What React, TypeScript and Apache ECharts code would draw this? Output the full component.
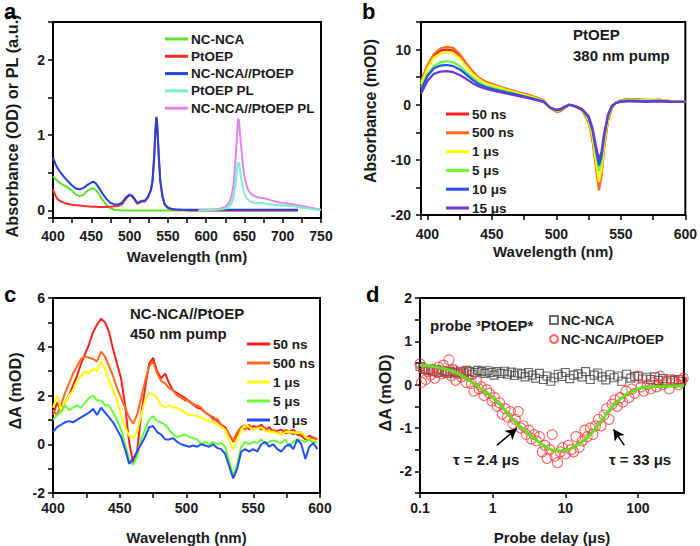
import React, { useEffect, useRef } from "react";
import * as echarts from "echarts";

// ---------- Panel a: steady-state absorption / PL ----------
const aX = [400,403,406,410,415,420,425,430,435,440,445,450,453,456,460,465,470,475,480,485,490,495,500,503,506,510,513,516,520,524,528,530,532,534,535,536,538,540,543,546,550,555,560,570,580,600,620,640,660,680,700,720];
const aNCNCA = [0.45,0.42,0.39,0.36,0.33,0.30,0.26,0.21,0.19,0.21,0.26,0.29,0.29,0.27,0.22,0.14,0.07,0.03,0.01,0.005,0,0,0,0,0,0,0,0,0,0,0,0,0,0,0,0,0,0,0,0,0,0,0,0,0,0,0,0,0,0,0,0];
const aPtOEP = [0.28,0.20,0.15,0.12,0.10,0.085,0.075,0.07,0.065,0.06,0.055,0.05,0.05,0.05,0.045,0.045,0.045,0.05,0.055,0.06,0.08,0.15,0.20,0.19,0.15,0.09,0.10,0.12,0.12,0.17,0.27,0.39,0.69,1.10,1.24,1.15,0.75,0.40,0.18,0.08,0.03,0.015,0.01,0.005,0,0,0,0,0,0,0,0];
const aBlend = [0.70,0.62,0.56,0.50,0.44,0.38,0.33,0.29,0.28,0.30,0.34,0.37,0.38,0.36,0.30,0.22,0.15,0.10,0.08,0.08,0.10,0.17,0.21,0.20,0.16,0.10,0.11,0.13,0.13,0.18,0.28,0.40,0.70,1.10,1.24,1.15,0.75,0.40,0.18,0.08,0.04,0.02,0.015,0.01,0.01,0.01,0.01,0.01,0.01,0.01,0.01,0.01];
const plX = [590,600,610,620,625,630,633,636,638,640,641,642,643,644,646,648,650,653,656,660,665,670,675,680,690,700,710,720,730,740,750];
const plPtOEP = [0,0,0.005,0.015,0.025,0.05,0.09,0.18,0.32,0.5,0.6,0.64,0.62,0.55,0.42,0.3,0.22,0.16,0.13,0.11,0.1,0.1,0.095,0.085,0.075,0.065,0.06,0.045,0.03,0.015,0.005];
const plBlend = [0,0.005,0.01,0.03,0.05,0.1,0.18,0.36,0.62,0.95,1.12,1.22,1.18,1.05,0.82,0.6,0.45,0.32,0.25,0.21,0.18,0.17,0.165,0.15,0.12,0.1,0.085,0.07,0.05,0.03,0.01];
const aNames = ["NC-NCA", "PtOEP", "NC-NCA//PtOEP", "PtOEP PL", "NC-NCA//PtOEP PL"];

// ---------- Panel b: PtOEP transient absorption ----------
const bX = [395,400,405,410,415,420,425,430,435,440,445,450,460,470,480,490,495,500,503,506,510,515,520,525,528,531,533,535,537,540,543,546,550,555,560,570,580,590,600];
const b50ns = [4.1,7.0,8.9,9.8,10.0,9.8,8.8,7.3,5.9,4.8,4.1,3.7,2.9,2.2,1.6,0.8,-0.5,-1.2,-1.1,-0.6,0.0,-0.3,-1.0,-3.0,-6.2,-11.5,-15,-12.5,-7.6,-2.8,-0.5,0.4,0.8,1.0,1.0,0.8,0.9,0.6,0.5];
const b500ns = [4.3,7.2,9.2,10.2,10.5,10.3,9.2,7.6,6.1,4.9,4.2,3.8,3.0,2.3,1.7,0.8,-0.6,-1.3,-1.2,-0.7,0.0,-0.4,-1.1,-3.2,-6.5,-12,-15.5,-13,-8,-3,-0.6,0.4,0.8,1.0,1.0,0.9,0.9,0.6,0.5];
const b1us = [3.7,6.6,8.5,9.3,9.6,9.4,8.4,7.0,5.6,4.6,3.9,3.5,2.8,2.1,1.5,0.7,-0.5,-1.1,-1.0,-0.6,0.0,-0.3,-1.0,-2.8,-5.8,-10.8,-14,-11.8,-7.2,-2.6,-0.4,0.4,0.7,0.9,0.9,0.8,0.8,0.6,0.5];
const b5us = [3.1,5.6,7.0,7.7,7.9,7.7,7.0,5.9,4.9,4.0,3.4,3.1,2.5,1.9,1.3,0.6,-0.5,-1.0,-0.9,-0.5,0.0,-0.3,-0.9,-2.5,-5.0,-9.3,-12,-10.1,-6.2,-2.2,-0.3,0.4,0.7,0.8,0.8,0.7,0.8,0.6,0.5];
const b10us = [2.6,5.2,6.6,7.1,7.2,7.0,6.4,5.5,4.5,3.7,3.2,2.9,2.3,1.8,1.2,0.6,-0.5,-1.0,-0.9,-0.5,0.0,-0.3,-0.9,-2.3,-4.6,-8.6,-11,-9.3,-5.8,-2.0,-0.3,0.3,0.6,0.7,0.7,0.6,0.7,0.5,0.5];
const b15us = [2.0,4.3,5.6,6.0,6.1,5.9,5.4,4.7,3.9,3.3,2.9,2.6,2.1,1.6,1.1,0.5,-0.5,-0.9,-0.8,-0.4,0.0,-0.3,-0.8,-2.1,-4.2,-7.8,-10,-8.5,-5.3,-1.8,-0.2,0.3,0.5,0.6,0.6,0.5,0.6,0.5,0.5];
const bNames = ["50 ns", "500 ns", "1 μs", "5 μs", "10 μs", "15 μs"];

// ---------- Panel c: NC-NCA//PtOEP transient absorption ----------
const cX = [400,403,406,409,412,415,418,421,424,427,430,433,436,439,442,445,448,451,454,457,460,463,466,469,472,475,478,481,484,487,490,493,496,499,502,505,508,511,514,517,520,523,526,529,532,535,538,541,544,547,550,553,556,559,562,565,568,571,574,577,580,583,586,589,592,595,598];
const c50ns = [1.2,1.7,1.4,1.7,2.0,2.4,2.8,3.3,3.7,4.1,4.6,4.9,5.15,5.0,4.6,3.9,3.3,2.7,1.6,0.1,-0.75,-0.3,1.2,2.3,3.3,3.55,3.0,2.7,2.9,2.5,2.2,2.1,2.0,1.9,1.75,1.65,1.5,1.45,1.3,1.2,1.1,0.95,0.8,0.7,0.4,0.1,0.4,0.7,0.8,0.6,0.75,0.7,0.8,0.6,0.7,0.5,0.55,0.6,0.45,0.5,0.6,0.4,0.35,0.2,0.35,0.25,0.2];
const c500ns = [1.4,1.2,1.6,2.1,2.5,2.9,3.2,3.5,3.6,3.55,3.5,3.4,3.8,3.6,3.2,2.8,2.3,1.9,1.5,1.1,0.85,1.2,1.9,2.6,3.2,3.4,2.9,2.6,2.5,2.3,2.2,2.0,1.9,1.8,1.8,1.6,1.6,1.5,1.3,1.2,1.0,1.05,0.8,0.6,0.4,0.15,0.5,0.7,0.6,0.8,0.6,0.7,0.6,0.7,0.5,0.6,0.5,0.4,0.6,0.5,0.4,0.5,0.4,0.3,0.2,0.3,0.2];
const c1us = [1.5,2.0,1.4,1.7,2.0,2.2,2.6,2.8,3.0,2.9,3.1,3.0,3.4,3.1,2.6,2.2,1.8,1.2,0.7,0.35,0.25,0.5,1.2,1.8,2.1,2.05,1.9,1.6,1.5,1.6,1.5,1.5,1.4,1.3,1.2,1.2,1.15,1.1,1.0,0.95,0.9,0.8,0.7,0.6,0.1,-0.2,0.2,0.6,0.8,0.7,0.6,0.65,0.7,0.55,0.5,0.5,0.45,0.4,0.5,0.5,0.5,0.45,0.5,0.3,0.2,0.15,0.1];
const c5us = [1.0,1.2,1.3,1.6,1.4,1.5,1.6,1.5,1.7,1.9,2.0,1.8,1.8,1.6,1.6,1.3,1.0,0.6,0.0,-0.6,-0.85,-0.5,0.2,0.6,1.0,1.15,0.95,0.9,0.8,0.6,0.4,0.3,0.35,0.4,0.3,0.25,0.2,0.0,0.1,0.0,0.1,0.0,0.05,-0.1,-0.7,-1.3,-0.8,-0.1,0.1,0.0,0.1,0.05,0.2,0.0,0.1,0.15,0.1,0.05,0.2,-0.1,0.1,0.2,0.15,0.1,0.2,0.05,0.1];
const c10us = [0.5,0.7,0.8,0.9,0.95,0.9,1.0,1.1,1.2,1.3,1.45,1.2,1.5,1.3,1.1,0.9,0.6,0.3,-0.2,-0.8,-0.6,-0.3,0.0,0.3,0.7,0.75,0.5,0.4,0.2,0.2,0.25,0.1,0.0,-0.05,-0.1,-0.05,-0.1,0.0,-0.05,-0.1,0.0,-0.15,-0.2,-0.4,-0.9,-1.4,-1.0,-0.3,-0.2,-0.3,-0.2,-0.3,0.0,0.1,-0.1,0.0,-0.2,-0.3,-0.1,0.0,-0.2,0.2,0.0,-0.6,-0.1,0.05,-0.2];
const cNames = ["50 ns", "500 ns", "1 μs", "5 μs", "10 μs"];

// ---------- Panel d: kinetics at 3PtOEP* probe ----------
const dSqX = [0.1,0.11,0.12,0.13,0.14,0.15,0.17,0.18,0.2,0.22,0.24,0.26,0.28,0.3,0.33,0.36,0.4,0.44,0.48,0.52,0.57,0.63,0.7,0.78,0.86,0.95,1.05,1.15,1.3,1.45,1.6,1.8,2.0,2.2,2.5,2.8,3.1,3.5,3.9,4.4,5,5.6,6.3,7,8,9,10,11.5,13,15,17,19,22,25,28,32,36,41,47,53,60,70,80,90,100,115,130,150,170,190,220,250,280,320,360,400];
const dSqY = [0.42,0.38,0.35,0.33,0.36,0.3,0.35,0.28,0.32,0.3,0.26,0.3,0.34,0.28,0.25,0.31,0.27,0.33,0.3,0.24,0.28,0.33,0.3,0.26,0.32,0.28,0.22,0.3,0.26,0.31,0.24,0.29,0.21,0.27,0.25,0.18,0.28,0.22,0.15,0.26,0.12,0.2,0.08,0.16,0.24,0.19,0.28,0.14,0.22,0.25,0.18,0.3,0.12,0.22,0.27,0.18,0.11,0.23,0.16,0.2,0.08,0.24,0.15,0.19,0.2,0.13,0.17,0.12,0.18,0.1,0.14,0.09,0.13,0.1,0.12,0.08];
const dCircX = [0.1,0.105,0.11,0.12,0.13,0.14,0.15,0.16,0.17,0.18,0.2,0.21,0.23,0.25,0.27,0.29,0.31,0.34,0.37,0.4,0.43,0.47,0.51,0.55,0.6,0.65,0.7,0.76,0.83,0.9,0.98,1.06,1.15,1.25,1.36,1.48,1.6,1.75,1.9,2.05,2.25,2.45,2.65,2.9,3.15,3.4,3.7,4.0,4.4,4.8,5.2,5.6,6.1,6.6,7.2,7.8,8.5,9.2,10,11,12,13,14,15.5,17,18.5,20,22,24,26,28.5,31,34,37,40,44,48,52,57,62,68,75,82,90,100,110,120,135,150,165,180,200,220,245,270,300,330,360,400,420];
const dCircY = [0.48,0.05,0.38,0.12,0.3,0.22,0.35,0.15,0.28,0.4,0.25,0.45,0.3,0.57,0.2,0.35,0.1,0.28,0.18,0.3,0.05,0.2,0.02,-0.15,0.08,-0.1,-0.05,-0.25,-0.12,-0.2,-0.38,-0.3,-0.5,-0.42,-0.68,-0.55,-0.75,-0.62,-0.9,-0.8,-0.62,-1.0,-0.95,-1.15,-1.05,-1.25,-1.15,-1.3,-1.2,-1.55,-1.4,-1.7,-1.5,-1.15,-1.65,-1.8,-1.55,-1.45,-1.6,-1.4,-1.5,-1.55,-1.2,-1.45,-1.3,-1.05,-1.2,-1.0,-1.15,-0.95,-0.8,-0.95,-0.7,-0.55,-0.8,-0.45,-0.35,-0.5,-0.3,-0.4,-0.15,-0.3,-0.1,-0.2,0.2,-0.05,-0.15,0.0,-0.1,0.05,-0.05,0.2,0.0,0.05,-0.1,0.1,0.05,0.0,0.1,0.15];
const dFitX = [0.1,0.15,0.2,0.3,0.4,0.5,0.7,1,1.5,2,3,4,5,6,7,8,10,12,15,20,25,30,40,50,70,100,150,200,300,430];
const dFitY = [0.44,0.42,0.38,0.29,0.18,0.08,-0.1,-0.3,-0.6,-0.85,-1.1,-1.28,-1.4,-1.48,-1.52,-1.53,-1.52,-1.47,-1.38,-1.22,-1.05,-0.88,-0.6,-0.42,-0.22,-0.1,-0.05,-0.04,-0.03,-0.03];
const dNames = ["NC-NCA", "NC-NCA//PtOEP"];
// arrow annotations (data coordinates: tail -> head)
const arrowTau1 = [[1.14, -1.40], [2.15, -1.01]];
const arrowTau2 = [[65, -1.40], [46, -1.03]];

const FONT = '"Liberation Sans", Arial, Helvetica, sans-serif';
const TXT = "#1a1a1a";

const zip = (xs: number[], ys: number[]) => xs.map((x, i) => [x, ys[i]]);

function valueAxis(o: any) {
  return {
    type: o.type || "value",
    gridIndex: o.g,
    min: o.min,
    max: o.max,
    interval: o.interval,
    splitNumber: o.splitNumber,
    logBase: o.logBase,
    name: o.name,
    nameLocation: "middle",
    nameGap: o.nameGap,
    nameTextStyle: { fontFamily: FONT, fontWeight: "bold", fontSize: o.nameSize || 15, color: TXT },
    axisLine: { show: true, onZero: false, lineStyle: { color: "#000", width: 2 } },
    axisTick: { show: true, inside: false, length: 5, lineStyle: { color: "#000", width: 1.5 } },
    minorTick: o.minor
      ? { show: true, splitNumber: o.minor, length: 5, lineStyle: { color: "#000", width: 1.5 } }
      : { show: false },
    splitLine: { show: false },
    minorSplitLine: { show: false },
    axisLabel: {
      fontFamily: FONT, fontWeight: "bold", fontSize: 14, color: TXT, margin: o.margin ?? 8,
      formatter: o.formatter, showMinLabel: o.showMin, showMaxLabel: o.showMax,
    },
  };
}

function lineSeries(name: string, g: number, data: number[][], color: string, width = 2, z = 2) {
  return {
    type: "line", name, xAxisIndex: g, yAxisIndex: g, data, symbol: "none", showSymbol: false,
    lineStyle: { color, width }, itemStyle: { color }, z, silent: true,
    emphasis: { disabled: true },
  };
}

const legendBase = (names: string[], prefix: string, left: number, top: number, gap: number) => ({
  data: names.map((n) => prefix + n),
  left, top, orient: "vertical", itemGap: gap, itemWidth: 23, itemHeight: 3, icon: "rect",
  selectedMode: false,
  textStyle: { fontFamily: FONT, fontWeight: "bold", fontSize: 13.5, color: TXT, padding: [0, 0, 0, -2] },
  formatter: (n: string) => n.slice(2),
});

const colA = ["#5fe02a", "#ff2a2a", "#2244dd", "#7af0cc", "#e184ee"];
const colB = ["#ff1e1e", "#ff6a1e", "#ffff00", "#66ff33", "#1f4fff", "#6a3acc"];
const colC = ["#ff1e1e", "#ff6a1e", "#ffff00", "#66ff33", "#1f4fff"];

function buildOption() {
  const gridBase = { show: true, borderColor: "#000", borderWidth: 2, backgroundColor: "transparent", containLabel: false };
  const everyLabel = (step: number, lo = -Infinity) => (v: number) =>
    Math.abs(v / step - Math.round(v / step)) < 1e-6 && v >= lo ? String(Math.round(v * 1000) / 1000) : "";

  const series: any[] = [];
  // panel a
  series.push(lineSeries("a:" + aNames[0], 0, zip(aX, aNCNCA), colA[0]));
  series.push(lineSeries("a:" + aNames[1], 0, zip(aX, aPtOEP), colA[1]));
  series.push(lineSeries("a:" + aNames[2], 0, zip(aX, aBlend), colA[2]));
  series.push(lineSeries("a:" + aNames[4], 0, zip(plX, plBlend), colA[4]));
  series.push(lineSeries("a:" + aNames[3], 0, zip(plX, plPtOEP), colA[3]));
  // panel b
  const bData = [b50ns, b500ns, b1us, b5us, b10us, b15us];
  bNames.forEach((n, i) => series.push(lineSeries("b:" + n, 1, zip(bX, bData[i]), colB[i], 2.2)));
  // panel c
  const cData = [c50ns, c500ns, c1us, c5us, c10us];
  cNames.forEach((n, i) => series.push(lineSeries("c:" + n, 2, zip(cX, cData[i]), colC[i], 2)));
  // panel d
  series.push({
    type: "scatter", name: "d:" + dNames[0], xAxisIndex: 3, yAxisIndex: 3, data: zip(dSqX, dSqY),
    symbol: "rect", symbolSize: 8, itemStyle: { color: "rgba(0,0,0,0)", borderColor: "#444", borderWidth: 1.1 }, silent: true,
  });
  series.push({
    type: "scatter", name: "d:" + dNames[1], xAxisIndex: 3, yAxisIndex: 3, data: zip(dCircX, dCircY),
    symbol: "circle", symbolSize: 10, itemStyle: { color: "rgba(0,0,0,0)", borderColor: "#ff3838", borderWidth: 1.1 }, silent: true,
  });
  series.push({
    type: "line", name: "fit", xAxisIndex: 3, yAxisIndex: 3, data: zip(dFitX, dFitY), smooth: true,
    symbol: "none", lineStyle: { color: "#66dd1f", width: 3 }, silent: true, z: 5,
    markLine: {
      silent: true, symbol: ["none", "arrow"], symbolSize: [9, 11], animation: false,
      lineStyle: { color: "#000", width: 1.5, type: "solid" }, label: { show: false },
      data: [
        [{ coord: arrowTau1[0] }, { coord: arrowTau1[1] }],
        [{ coord: arrowTau2[0] }, { coord: arrowTau2[1] }],
      ],
    },
  });

  const panelLetter = (t: string, left: number, top: number) => ({
    type: "text", left, top, z: 10, style: { text: t, font: `bold 22px ${FONT}`, fill: "#000" },
  });
  const note = (t: string, left: number, top: number, size = 15, lh = 20) => ({
    type: "text", left, top, style: { text: t, font: `bold ${size}px ${FONT}`, fill: TXT, lineHeight: lh },
  });
  const yTitle = (t: string, cx: number, cy: number, size: number) => ({
    type: "text", x: cx, y: cy, rotation: Math.PI / 2,
    style: {
      text: t, font: `bold ${size}px ${FONT}`, fill: TXT,
      textAlign: "center", textVerticalAlign: "middle", align: "center", verticalAlign: "middle",
    },
  });

  return {
    animation: false,
    backgroundColor: "#fff",
    grid: [
      { ...gridBase, left: 53, top: 22, width: 268, height: 196 },
      { ...gridBase, left: 421, top: 22, width: 265, height: 193 },
      { ...gridBase, left: 53, top: 298, width: 267, height: 195 },
      { ...gridBase, left: 420, top: 298, width: 264, height: 195 },
    ],
    xAxis: [
      valueAxis({ g: 0, min: 400, max: 750, interval: 25, name: "Wavelength (nm)", nameGap: 31, margin: 11, formatter: everyLabel(50) }),
      valueAxis({ g: 1, min: 395, max: 600, splitNumber: 4, minor: 2, name: "Wavelength (nm)", nameGap: 29, margin: 12, formatter: everyLabel(50, 400) }),
      valueAxis({ g: 2, min: 400, max: 600, interval: 25, name: "Wavelength (nm)", nameGap: 37, margin: 8, formatter: everyLabel(50) }),
      valueAxis({ g: 3, type: "log", logBase: 10, min: 0.1, max: 430, name: "Probe delay (μs)", nameGap: 37, margin: 8, showMax: false,
        formatter: (v: number) => (v < 0.5 ? "0.1" : String(Math.round(v))) }),
    ],
    yAxis: [
      valueAxis({ g: 0, min: -0.1, max: 2.5, splitNumber: 5, formatter: everyLabel(1, 0) }),
      valueAxis({ g: 1, min: -20, max: 15, interval: 5, margin: 10, formatter: everyLabel(10) }),
      valueAxis({ g: 2, min: -2, max: 6, interval: 1, formatter: everyLabel(2) }),
      valueAxis({ g: 3, min: -2.5, max: 2, interval: 0.5, formatter: everyLabel(1) }),
    ],
    legend: [
      legendBase(aNames, "a:", 160, 27, 3.3),
      legendBase(bNames, "b:", 441, 102, 4.8),
      legendBase(cNames, "c:", 242, 332, 5),
      { ...legendBase(dNames, "d:", 544, 308, 5), icon: undefined, itemWidth: 8, itemHeight: 8 },
    ],
    graphic: [
      yTitle("Absorbance (OD) or PL (a.u.)", 12, 126, 16.3),
      yTitle("Absorbance (mOD)", 370, 111, 15.8),
      yTitle("ΔA (mOD)", 15, 391, 16.3),
      yTitle("ΔA (mOD)", 385, 393, 16.3),
      panelLetter("a", 4, 0),
      panelLetter("b", 362, 0),
      panelLetter("c", 4, 283),
      panelLetter("d", 366, 283),
      note("PtOEP\n380 nm pump", 573, 24, 15, 21),
      note("NC-NCA//PtOEP\n450 nm pump", 130, 303, 15, 20),
      note("probe ³PtOEP*", 430, 315, 15),
      note("τ = 2.4 μs", 453, 449, 15),
      note("τ = 33 μs", 609, 449, 15),
    ],
    series,
  };
}

export default function App() {
  const ref = useRef<HTMLDivElement>(null);
  useEffect(() => {
    if (!ref.current) return;
    const chart = echarts.init(ref.current, null, { renderer: "svg" });
    chart.setOption(buildOption() as any);
    return () => chart.dispose();
  }, []);
  return (
    <div
      ref={ref}
      style={{ position: "fixed", left: 0, top: 0, width: 700, height: 546, background: "#fff" }}
    />
  );
}
